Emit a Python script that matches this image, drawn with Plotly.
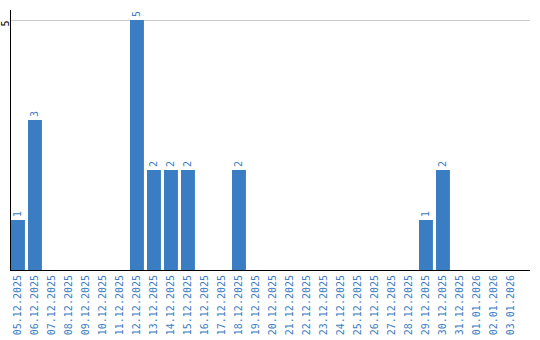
import plotly.graph_objects as go

dates = ["05.12.2025", "06.12.2025", "07.12.2025", "08.12.2025", "09.12.2025",
         "10.12.2025", "11.12.2025", "12.12.2025", "13.12.2025", "14.12.2025",
         "15.12.2025", "16.12.2025", "17.12.2025", "18.12.2025", "19.12.2025",
         "20.12.2025", "21.12.2025", "22.12.2025", "23.12.2025", "24.12.2025",
         "25.12.2025", "26.12.2025", "27.12.2025", "28.12.2025", "29.12.2025",
         "30.12.2025", "31.12.2025", "01.01.2026", "02.01.2026", "03.01.2026"]
values = [1, 3, 0, 0, 0, 0, 0, 5, 2, 2, 2, 0, 0, 2, 0,
          0, 0, 0, 0, 0, 0, 0, 0, 0, 1, 2, 0, 0, 0, 0]
labels = [str(v) if v else "" for v in values]

BLUE = "#3b7dc2"
FONT = "DejaVu Sans Mono, monospace"

fig = go.Figure(go.Bar(
    x=list(range(len(dates))), y=values, text=labels,
    textposition="outside", textangle=-90,
    textfont=dict(family=FONT, size=10, color=BLUE),
    marker=dict(color=BLUE, line=dict(width=0)),
    width=0.82, cliponaxis=False,
))

fig.update_layout(
    width=540, height=340,
    margin=dict(l=11, r=10, t=10, b=70),
    plot_bgcolor="white", paper_bgcolor="white",
    showlegend=False,
    font=dict(family=FONT, size=10),
    xaxis=dict(
        tickmode="array", tickvals=list(range(len(dates))), ticktext=dates,
        tickangle=-90, tickfont=dict(family=FONT, size=10, color=BLUE),
        range=[-0.41, 30.12], showgrid=False, showline=True, linecolor="black",
        linewidth=1, ticks="", zeroline=False, automargin=False,
    ),
    yaxis=dict(
        range=[0, 5.2], tickmode="array", tickvals=[5], ticktext=["5"],
        tickangle=-90, tickfont=dict(family=FONT, size=10, color="black"),
        showgrid=True, gridcolor="#cccccc", gridwidth=1,
        showline=True, linecolor="black", linewidth=1, ticks="",
        zeroline=False, automargin=False, ticklabelstandoff=-3,
        ticklabelshift=5,
    ),
)

fig.write_html("out.html")
